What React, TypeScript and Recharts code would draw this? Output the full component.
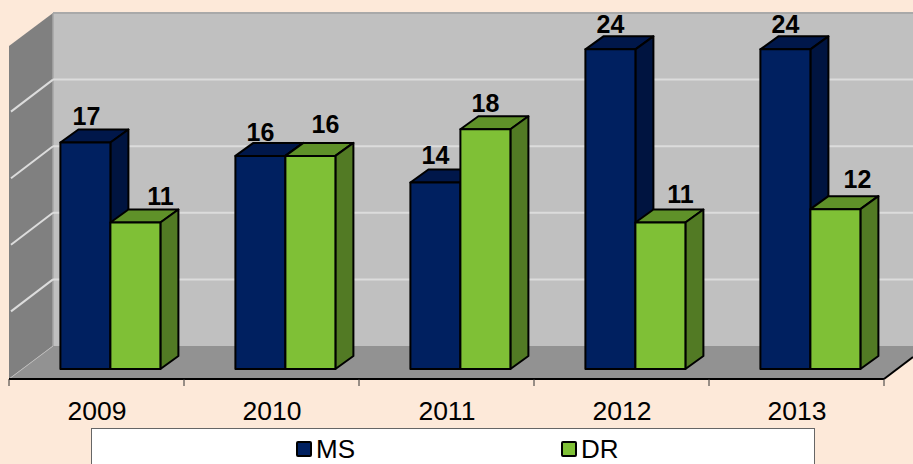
import { Bar, BarChart, Customized, LabelList, Legend, XAxis, YAxis } from "recharts";

const years = ["2009", "2010", "2011", "2012", "2013"];
const msValues = [17, 16, 14, 24, 24];
const drValues = [11, 16, 18, 11, 12];
const yTicks = [5, 10, 15, 20, 25];

// hand placed labels in the original, offset from bar centre
const msLabelShift = [[1, -18], [0, -15], [0, -19], [0, -16], [0, -16]];
const drLabelShift = [[25, -17], [15, -23], [0, -17], [20, -19], [22, -21]];

const chartData = years.map((year, i) => ({ year, MS: msValues[i], DR: drValues[i] }));

const WIDTH = 913;
const HEIGHT = 464;
const FONT = "'Liberation Sans', Arial, sans-serif";

// bars stand on this plane
const PLOT_LEFT = 22.4;
const PLOT_RIGHT = 897.4;
const PLOT_TOP = 36;
const PLOT_BOTTOM = 369;

// box around the bars
const FRONT_LEFT = 9;
const FRONT_RIGHT = 884;
const FRONT_BOTTOM = 379;
const BAND = 175;
const WALL_DX = 44;
const WALL_DY = 33;

// bar depth
const DEPTH_X = 18;
const DEPTH_Y = 13;

const unitY = (PLOT_BOTTOM - PLOT_TOP) / 25;

function Walls() {
  const backLeft = FRONT_LEFT + WALL_DX;
  const backBottom = FRONT_BOTTOM - WALL_DY;
  const backTop = backBottom - 25 * unitY;
  return (
    <g>
      <polygon
        points={`${backLeft},${backTop} ${WIDTH},${backTop} ${WIDTH},${backBottom} ${backLeft},${backBottom}`}
        fill="#c0c0c0"
      />
      <line x1={backLeft} x2={WIDTH} y1={backTop} y2={backTop} stroke="#a9a9a9" strokeWidth={2} />
      <polygon
        points={`${FRONT_LEFT},${backTop + WALL_DY} ${backLeft},${backTop} ${backLeft},${backBottom} ${FRONT_LEFT},${FRONT_BOTTOM}`}
        fill="#808080"
      />
      <polygon
        points={`${FRONT_LEFT},${FRONT_BOTTOM} ${backLeft},${backBottom} ${WIDTH},${backBottom} ${WIDTH},${FRONT_BOTTOM - 22} ${FRONT_RIGHT},${FRONT_BOTTOM}`}
        fill="#929292"
      />
      <line x1={backLeft} x2={backLeft} y1={backTop} y2={backBottom} stroke="#a6a6a6" strokeWidth={1.5} />
      <line x1={FRONT_LEFT} x2={backLeft} y1={FRONT_BOTTOM} y2={backBottom} stroke="#bdbdbd" strokeWidth={1} />
      {yTicks.slice(0, 4).map((t) => {
        const y = backBottom - t * unitY;
        return (
          <g key={t}>
            <line x1={backLeft} x2={WIDTH} y1={y} y2={y} stroke="#dcdcdc" strokeWidth={2} />
            <line x1={backLeft} x2={FRONT_LEFT + 2} y1={y} y2={y + WALL_DY - 1} stroke="#dcdcdc" strokeWidth={2} />
          </g>
        );
      })}
      <line x1={FRONT_LEFT} x2={FRONT_RIGHT} y1={FRONT_BOTTOM} y2={FRONT_BOTTOM} stroke="#000" strokeWidth={2} />
      <line x1={FRONT_RIGHT} x2={WIDTH} y1={FRONT_BOTTOM} y2={FRONT_BOTTOM - 22} stroke="#000" strokeWidth={2} />
      {years.concat("").map((y, i) => (
        <line
          key={i}
          x1={FRONT_LEFT + i * BAND}
          x2={FRONT_LEFT + i * BAND}
          y1={FRONT_BOTTOM}
          y2={FRONT_BOTTOM + 7}
          stroke="#333"
          strokeWidth={1}
        />
      ))}
    </g>
  );
}

function makeBox(front: string, top: string, side: string) {
  return function Box(props: any) {
    const { x, y, width, height } = props;
    const r = x + width;
    const b = y + height;
    return (
      <g stroke="#000" strokeWidth={2} strokeLinejoin="round">
        <polygon
          points={`${x},${y} ${x + DEPTH_X},${y - DEPTH_Y} ${r + DEPTH_X},${y - DEPTH_Y} ${r},${y}`}
          fill={top}
        />
        <polygon
          points={`${r},${y} ${r + DEPTH_X},${y - DEPTH_Y} ${r + DEPTH_X},${b - DEPTH_Y} ${r},${b}`}
          fill={side}
        />
        <rect x={x} y={y} width={width} height={height} fill={front} />
      </g>
    );
  };
}

const MsBox = makeBox("#002060", "#00174a", "#001440");
const DrBox = makeBox("#7fc036", "#5f9129", "#527a24");

function labelWith(shift: number[][]) {
  return function BarLabel(props: any) {
    const { x, y, width, value, index } = props;
    return (
      <text
        x={x + width / 2 + shift[index][0]}
        y={y + shift[index][1]}
        textAnchor="middle"
        fontFamily={FONT}
        fontSize={25}
        fontWeight="bold"
        fill="#000"
      >
        {value}
      </text>
    );
  };
}

function YearTick(props: any) {
  const { x, payload } = props;
  return (
    <text x={x - 13} y={FRONT_BOTTOM + 41} textAnchor="middle" fontFamily={FONT} fontSize={26.5} fill="#000">
      {payload.value}
    </text>
  );
}

function LegendBox(props: any) {
  const colors: Record<string, string> = { MS: "#002060", DR: "#7fc036" };
  const spots: Record<string, number> = { MS: 296, DR: 561 };
  return (
    <div
      style={{
        position: "relative",
        width: 722,
        height: 40,
        background: "#fff",
        border: "1px solid #666",
        fontFamily: FONT,
        fontSize: 26,
        color: "#000",
      }}
    >
      {(props.payload || []).map((p: any) => (
        <div key={p.value} style={{ position: "absolute", left: spots[p.value] - 92, top: 0 }}>
          <span
            style={{
              position: "absolute",
              left: 0,
              top: 12,
              width: 16,
              height: 16,
              boxSizing: "border-box",
              borderRadius: 2,
              background: colors[p.value],
              border: "2.5px solid #000",
            }}
          />
          <span style={{ position: "absolute", left: 20, top: 0, lineHeight: "41px", whiteSpace: "nowrap" }}>
            {p.value}
          </span>
        </div>
      ))}
    </div>
  );
}

export default function App() {
  return (
    <div style={{ position: "absolute", left: 0, top: 0, width: WIDTH, height: HEIGHT, background: "#fde9d9", overflow: "hidden" }}>
      <BarChart
        width={WIDTH}
        height={HEIGHT}
        data={chartData}
        barGap={0}
        barSize={50}
        margin={{ top: PLOT_TOP, right: WIDTH - PLOT_RIGHT, bottom: HEIGHT - PLOT_BOTTOM - 30, left: PLOT_LEFT }}
      >
        <Customized component={Walls} />
        <XAxis dataKey="year" height={30} axisLine={false} tickLine={false} tick={YearTick} interval={0} />
        <YAxis hide domain={[0, 25]} />
        <Legend
          layout="horizontal"
          verticalAlign="middle"
          content={LegendBox}
          wrapperStyle={{ left: 91, top: 428, width: 724, height: 42 }}
        />
        <Bar dataKey="MS" fill="#002060" shape={MsBox} isAnimationActive={false}>
          <LabelList dataKey="MS" content={labelWith(msLabelShift)} />
        </Bar>
        <Bar dataKey="DR" fill="#7fc036" shape={DrBox} isAnimationActive={false}>
          <LabelList dataKey="DR" content={labelWith(drLabelShift)} />
        </Bar>
      </BarChart>
    </div>
  );
}
